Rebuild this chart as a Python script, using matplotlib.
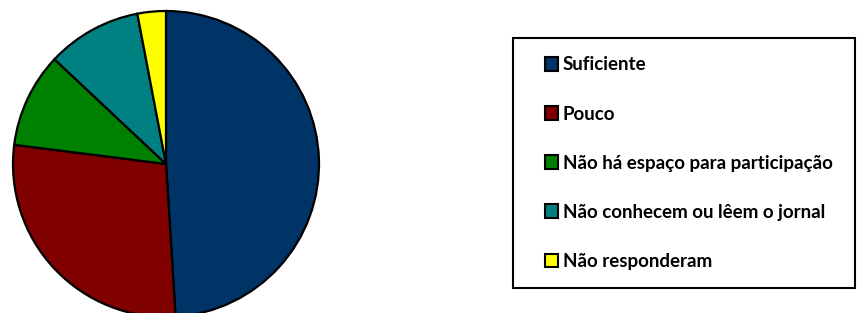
import matplotlib.pyplot as plt
from matplotlib.patches import Rectangle

labels = ['Suficiente', 'Pouco', 'Não há espaço para participação',
          'Não conhecem ou lêem o jornal', 'Não responderam']
values = [49, 28, 10, 10, 3]
colors = ['#003366', '#800000', '#008000', '#008080', '#FFFF00']

fig = plt.figure(figsize=(8.57, 3.13), dpi=100)
ax = fig.add_axes([0, 0, 1, 1])

wedges, _ = ax.pie(values, colors=colors, startangle=90, counterclock=False,
                   center=(166, 313 - 164), radius=153, frame=True,
                   wedgeprops=dict(edgecolor='black', linewidth=1.6))
ax.set_xlim(0, 857)
ax.set_ylim(0, 313)
ax.axis('off')

# legend box
ax.add_patch(Rectangle((513, 313 - 288), 342, 250, fill=False,
                       edgecolor='black', linewidth=1.5, zorder=5))

leg = ax.legend(wedges, labels, loc='upper left',
                bbox_to_anchor=(537 / 857, (313 - 49) / 313),
                frameon=False, handlelength=0.72, handleheight=0.72,
                handletextpad=0.26, labelspacing=1.71, borderaxespad=0,
                prop=dict(family='Lato', weight='bold', size=13.5))
for h in leg.legend_handles:
    h.set_linewidth(1.5)

fig.savefig('out.png', dpi=100)
